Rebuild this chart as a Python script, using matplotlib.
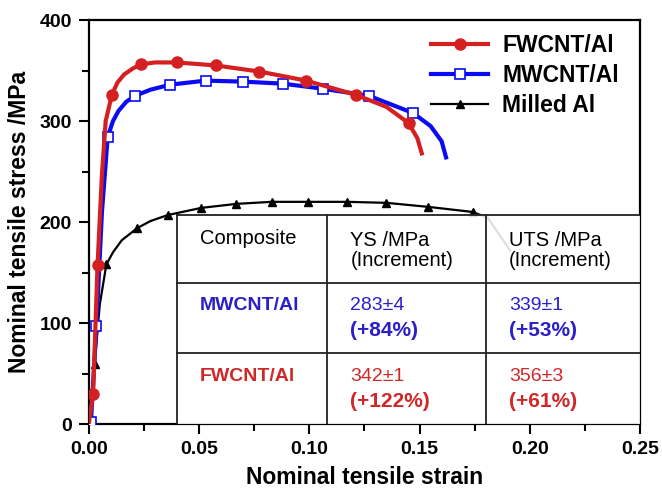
import matplotlib
matplotlib.use("Agg")
import matplotlib.pyplot as plt
from matplotlib.ticker import MultipleLocator
from matplotlib.patches import Rectangle

plt.rcParams['font.family'] = ['Liberation Sans', 'DejaVu Sans']

# ---- data ----
fw_strain = [0, 0.002, 0.004, 0.006, 0.0077, 0.0105, 0.013, 0.016, 0.020, 0.0236, 0.030, 0.040,
             0.0577, 0.0773, 0.0986, 0.121, 0.135, 0.145, 0.149, 0.151]
fw_stress = [0, 30, 157, 247, 300, 326, 338, 346, 352, 356, 358, 358,
             355, 349, 340, 326, 314, 298, 283, 268]
fw_marks = [1, 2, 5, 9, 11, 12, 13, 14, 15, 17]

mw_strain = [0, 0.001, 0.0035, 0.006, 0.0086, 0.011, 0.0135, 0.017, 0.021, 0.028, 0.037, 0.053,
             0.070, 0.088, 0.106, 0.127, 0.147, 0.155, 0.160, 0.162]
mw_stress = [0, 2, 97, 210, 284, 300, 310, 319, 325, 331, 336, 340,
             339, 337, 332, 325, 308, 295, 280, 264]
mw_marks = [1, 2, 4, 8, 10, 11, 12, 13, 14, 15, 16]

al_strain = [0, 0.0027, 0.005, 0.008, 0.011, 0.015, 0.022, 0.028, 0.036, 0.051, 0.067, 0.083,
             0.0995, 0.117, 0.135, 0.154, 0.174, 0.181, 0.191]
al_stress = [0, 59, 118, 158, 170, 182, 194, 201, 207, 214, 218, 220,
             220, 220, 219, 215, 210, 204, 172]
al_marks = [1, 3, 6, 8, 9, 10, 11, 12, 13, 14, 15, 16]

series_labels = ["FWCNT/Al", "MWCNT/Al", "Milled Al"]

table_header = ["Composite", "YS /MPa\n(Increment)", "UTS /MPa\n(Increment)"]
table_rows = ["MWCNT/Al", "FWCNT/Al"]
ys_values = ["283\u00b14", "342\u00b11"]
ys_incr = ["(+84%)", "(+122%)"]
uts_values = ["339\u00b11", "356\u00b13"]
uts_incr = ["(+53%)", "(+61%)"]

RED = "#d42020"
BLUE_T = "#2a1fc8"
RED_T = "#d02828"

fig = plt.figure(figsize=(6.62, 4.88), dpi=100)
ax = fig.add_axes([0.134, 0.131, 0.833, 0.828])

ax.plot(al_strain, al_stress, color="black", lw=1.6, marker="^", ms=5.5,
        markevery=al_marks, label=series_labels[2], zorder=3)
ax.plot(mw_strain, mw_stress, color="#0a0af5", lw=3, marker="s", ms=7,
        mfc="white", mec="#0a0af5", mew=1.2, markevery=mw_marks,
        label=series_labels[1], zorder=4)
ax.plot(fw_strain, fw_stress, color=RED, lw=3, marker="o", ms=8,
        markevery=fw_marks, label=series_labels[0], zorder=5)

ax.set_xlim(0, 0.25)
ax.set_ylim(0, 400)
ax.xaxis.set_minor_locator(MultipleLocator(0.025))
ax.yaxis.set_major_locator(MultipleLocator(100))
ax.yaxis.set_minor_locator(MultipleLocator(50))
ax.set_xticks([0, 0.05, 0.10, 0.15, 0.20, 0.25])
ax.set_xticklabels(["0.00", "0.05", "0.10", "0.15", "0.20", "0.25"])
ax.tick_params(which="major", direction="out", length=7, width=1.5,
               labelsize=14, top=False, right=False, pad=5)
ax.tick_params(which="minor", direction="out", length=5, width=1.5,
               top=False, right=False)
for lab in ax.get_xticklabels() + ax.get_yticklabels():
    lab.set_fontweight("bold")
for sp in ax.spines.values():
    sp.set_linewidth(1.6)

ax.set_xlabel("Nominal tensile strain", fontsize=16.5, fontweight="bold", labelpad=6)
ax.set_ylabel("Nominal tensile stress /MPa", fontsize=16.5, fontweight="bold", labelpad=6)

# ---- inset table ----
x0, x1, x2, x3 = 0.040, 0.108, 0.180, 0.25
y0, y1, y2, y3 = 0, 70, 140, 207
ax.add_patch(Rectangle((x0, y0), x3 - x0, y3 - y0, facecolor="white",
                       edgecolor="none", alpha=0.88, zorder=6))
lk = dict(color="#222222", lw=1.3, zorder=7)
ax.plot([x0, x3], [y3, y3], **lk)
ax.plot([x0, x3], [y2, y2], **lk)
ax.plot([x0, x3], [y1, y1], **lk)
ax.plot([x0, x0], [y0, y3], **lk)
ax.plot([x1, x1], [y0, y3], **lk)
ax.plot([x2, x2], [y0, y3], **lk)

tx = [0.0505, 0.1186, 0.1905]
fs = 14.5
ax.text(tx[0], 184, table_header[0], fontsize=fs, va="center", ha="left", zorder=8)
ax.text(tx[1], 172, table_header[1], fontsize=fs, va="center", ha="left",
        linespacing=1.05, zorder=8)
ax.text(tx[2], 172, table_header[2], fontsize=fs, va="center", ha="left",
        linespacing=1.05, zorder=8)

row_y = [(117.5, 93), (47.4, 22.7)]
row_col = [BLUE_T, RED_T]
for i in range(2):
    ya, yb = row_y[i]
    c = row_col[i]
    ax.text(tx[0], ya, table_rows[i], fontsize=14, fontweight="bold", color=c,
            va="center", ha="left", zorder=8)
    ax.text(tx[1], ya, ys_values[i], fontsize=14, color=c, va="center", ha="left", zorder=8)
    ax.text(tx[1], yb, ys_incr[i], fontsize=15, fontweight="bold", color=c,
            va="center", ha="left", zorder=8)
    ax.text(tx[2], ya, uts_values[i], fontsize=14, color=c, va="center", ha="left", zorder=8)
    ax.text(tx[2], yb, uts_incr[i], fontsize=15, fontweight="bold", color=c,
            va="center", ha="left", zorder=8)

# ---- legend ----
h, l = ax.get_legend_handles_labels()
order = [2, 1, 0]
leg = ax.legend([h[i] for i in order], [l[i] for i in order],
                loc="upper left", bbox_to_anchor=(0.621, 0.965), frameon=False,
                prop={"weight": "bold", "size": 16.5}, handlelength=2.5,
                handletextpad=0.6, labelspacing=0.3, numpoints=1,
                borderpad=0, borderaxespad=0)
leg.set_zorder(9)

fig.savefig("out.png", dpi=100, facecolor="white")
